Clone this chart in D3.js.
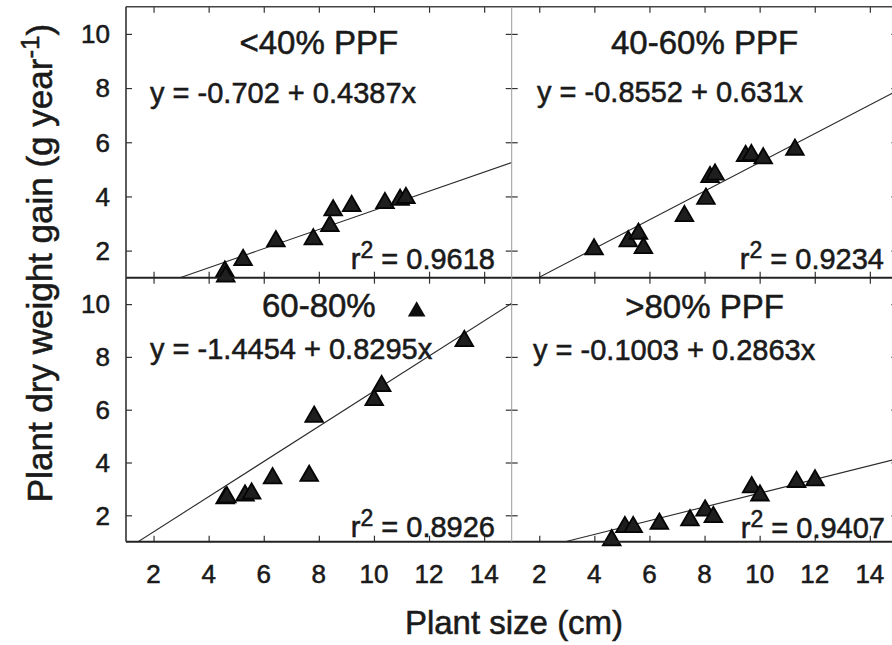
<!DOCTYPE html>
<html>
<head>
<meta charset="utf-8">
<script src="https://cdn.jsdelivr.net/npm/d3@7"></script>
<style>
  html, body { margin: 0; padding: 0; background: #ffffff; }
  svg { display: block; font-family: Arial, "Liberation Sans", sans-serif; }
  text { white-space: pre; fill: #1a1a1a; stroke: #1a1a1a; stroke-width: 0.55px; }
</style>
</head>
<body>
<svg id="chart" width="892" height="645"></svg>
<script>
// ---------------- data ----------------
const panelTitles = ["<40% PPF", "40-60% PPF", "60-80%", ">80% PPF"];
const equations = [
  "y = -0.702 + 0.4387x",
  "y = -0.8552 + 0.631x",
  "y = -1.4454 + 0.8295x",
  "y = -0.1003 + 0.2863x"
];
const rSquared = ["0.9618", "0.9234", "0.8926", "0.9407"];
const xTicks = [2, 4, 6, 8, 10, 12, 14];
const yTicks = [2, 4, 6, 8, 10];

// plant size (cm) and dry weight gain (g/year) per panel
const sizeLt40  = [4.59, 4.62, 5.25, 6.44, 7.80, 8.40, 8.52, 9.19, 10.40, 10.95, 11.16];
const gainLt40  = [1.30, 1.12, 1.73, 2.42, 2.49, 2.98, 3.56, 3.72, 3.83, 3.95, 4.02];
const size40_60 = [3.99, 5.23, 5.60, 5.78, 7.27, 8.05, 8.20, 8.38, 9.49, 9.70, 10.13, 11.28];
const gain40_60 = [2.12, 2.42, 2.70, 2.17, 3.35, 3.99, 4.79, 4.88, 5.57, 5.60, 5.48, 5.80];
const size60_80 = [4.60, 4.66, 5.32, 5.56, 6.32, 7.65, 7.83, 10.01, 10.28, 13.28, 11.55];
const gain60_80 = [2.72, 2.76, 2.83, 2.90, 3.48, 3.57, 5.81, 6.44, 6.97, 8.68, 9.80];
const sizeGt80  = [4.63, 5.11, 5.41, 6.36, 7.47, 8.02, 8.32, 9.71, 10.01, 11.34, 12.01];
const gainGt80  = [1.13, 1.63, 1.63, 1.76, 1.89, 2.26, 2.01, 3.14, 2.83, 3.34, 3.40];
// the solid (unoutlined) triangle in the 60-80% panel is the 11.55 / 9.80 point
const plainPointIndex = [null, null, 10, null];

// fitted lines as drawn (end points)
const fitX = [[2.96, 15], [1.97, 15], [1.44, 15], [2.94, 15]];
const fitY = [[1.00, 5.25], [1.00, 7.91], [1.00, 10.03], [1.00, 4.14]];

const xDomain = [1, 15];
const yDomain = [1, 11];

// ---------------- layout ----------------
const svg = d3.select("#chart");
const colEdges = [126, 511.7, 897.4];
const rowEdges = [6.8, 277.7, 541.7];

const panelSizes = [sizeLt40, size40_60, size60_80, sizeGt80];
const panelGains = [gainLt40, gain40_60, gain60_80, gainGt80];

const titleBaseline = [54, 53.5, 317, 318];
const eqX = [150, 537, 150, 533];
const eqBaseline = [103, 101.5, 359, 360];
const r2Baseline = [269, 268.5, 536.5, 538];
const r2Right = [495, 884, 495, 885];

const defs = svg.append("defs");

for (let p = 0; p < 4; p++) {
  const col = p % 2, row = Math.floor(p / 2);
  const x0 = colEdges[col], x1 = colEdges[col + 1];
  const y0 = rowEdges[row], y1 = rowEdges[row + 1];
  const xs = d3.scaleLinear().domain(xDomain).range([x0, x1]);
  const ys = d3.scaleLinear().domain(yDomain).range([y1, y0]);

  defs.append("clipPath").attr("id", "clip" + p)
    .append("rect").attr("x", x0).attr("y", y0).attr("width", x1 - x0).attr("height", y1 - y0);

  const g = svg.append("g");

  // axes with inward ticks on all four sides
  g.append("g").attr("transform", `translate(0,${y1})`)
    .call(d3.axisTop(xs).tickValues(xTicks).tickSize(6).tickFormat(""))
    .call(a => a.select(".domain").remove());
  g.append("g").attr("transform", `translate(0,${y0})`)
    .call(d3.axisBottom(xs).tickValues(xTicks).tickSize(6).tickFormat(""))
    .call(a => a.select(".domain").remove());
  g.append("g").attr("transform", `translate(${x0},0)`)
    .call(d3.axisRight(ys).tickValues(yTicks).tickSize(6).tickFormat(""))
    .call(a => a.select(".domain").remove());
  g.append("g").attr("transform", `translate(${x1},0)`)
    .call(d3.axisLeft(ys).tickValues(yTicks).tickSize(6).tickFormat(""))
    .call(a => a.select(".domain").remove());
  g.selectAll(".tick line").attr("stroke", "#333").attr("stroke-width", 1.2);

  // fitted line
  const line = d3.line().x(d => xs(d[0])).y(d => ys(d[1]));
  g.append("path")
    .datum(d3.zip(fitX[p], fitY[p]))
    .attr("clip-path", `url(#clip${p})`)
    .attr("d", line)
    .attr("fill", "none")
    .attr("stroke", "#2a2a2a")
    .attr("stroke-width", 1.1);

  // points
  const pts = d3.zip(panelSizes[p], panelGains[p]);
  const tri = d3.symbol(d3.symbolTriangle, 135);
  g.selectAll("path.pt").data(pts).join("path")
    .attr("class", "pt")
    .attr("d", tri)
    .attr("transform", d => `translate(${xs(d[0])},${ys(d[1]) + 2})`)
    .attr("fill", (d, i) => i === plainPointIndex[p] ? "#0d0d0d" : "#1e1e1e")
    .attr("stroke", (d, i) => i === plainPointIndex[p] ? "none" : "#050505")
    .attr("stroke-width", 1.8);

  // texts
  g.append("text")
    .attr("x", (x0 + x1) / 2).attr("y", titleBaseline[p])
    .attr("text-anchor", "middle")
    .attr("font-size", 33)
    .text(panelTitles[p]);

  g.append("text")
    .attr("x", eqX[p]).attr("y", eqBaseline[p])
    .attr("font-size", 29)
    .text(equations[p]);

  const r2 = g.append("text")
    .attr("x", r2Right[p]).attr("y", r2Baseline[p])
    .attr("text-anchor", "end")
    .attr("font-size", 29);
  r2.append("tspan").text("r");
  r2.append("tspan").attr("font-size", 23).attr("dy", -11).text("2");
  r2.append("tspan").attr("dy", 11).text(" = " + rSquared[p]);

  // x tick labels under bottom row
  if (row === 1) {
    g.selectAll("text.xl").data(xTicks).join("text")
      .attr("class", "xl")
      .attr("x", d => xs(d)).attr("y", 583)
      .attr("text-anchor", "middle")
      .attr("font-size", 26)
      .text(d => d);
  }
  // y tick labels on left column
  if (col === 0) {
    g.selectAll("text.yl").data(yTicks).join("text")
      .attr("class", "yl")
      .attr("x", 110).attr("y", d => ys(d) + 9.3)
      .attr("text-anchor", "end")
      .attr("font-size", 26)
      .text(d => d);
  }
}

// frame lines
const frame = svg.append("g").attr("fill", "none");
frame.append("line").attr("x1", colEdges[0]).attr("x2", colEdges[2]).attr("y1", rowEdges[0]).attr("y2", rowEdges[0])
  .attr("stroke", "#444").attr("stroke-width", 1.5);
frame.append("line").attr("x1", colEdges[0]).attr("x2", colEdges[2]).attr("y1", rowEdges[1]).attr("y2", rowEdges[1])
  .attr("stroke", "#222").attr("stroke-width", 2);
frame.append("line").attr("x1", colEdges[0]).attr("x2", colEdges[2]).attr("y1", rowEdges[2]).attr("y2", rowEdges[2])
  .attr("stroke", "#222").attr("stroke-width", 2);
frame.append("line").attr("x1", colEdges[0]).attr("x2", colEdges[0]).attr("y1", rowEdges[0]).attr("y2", rowEdges[2])
  .attr("stroke", "#333").attr("stroke-width", 1.6);
frame.append("line").attr("x1", colEdges[1]).attr("x2", colEdges[1]).attr("y1", rowEdges[0]).attr("y2", rowEdges[2])
  .attr("stroke", "#9a9a9a").attr("stroke-width", 1);
frame.append("line").attr("x1", colEdges[2]).attr("x2", colEdges[2]).attr("y1", rowEdges[0]).attr("y2", rowEdges[2])
  .attr("stroke", "#333").attr("stroke-width", 1.6);

// axis titles
svg.append("text")
  .attr("x", 514).attr("y", 634)
  .attr("text-anchor", "middle")
  .attr("font-size", 33)
  .text("Plant size (cm)");

const yt = svg.append("text")
  .attr("transform", "translate(52,263) rotate(-90)")
  .attr("text-anchor", "middle")
  .attr("font-size", 35);
yt.append("tspan").text("Plant dry weight gain (g year");
yt.append("tspan").attr("font-size", 26).attr("dy", -13).text("-1");
yt.append("tspan").attr("dy", 13).text(")");
</script>
</body>
</html>
